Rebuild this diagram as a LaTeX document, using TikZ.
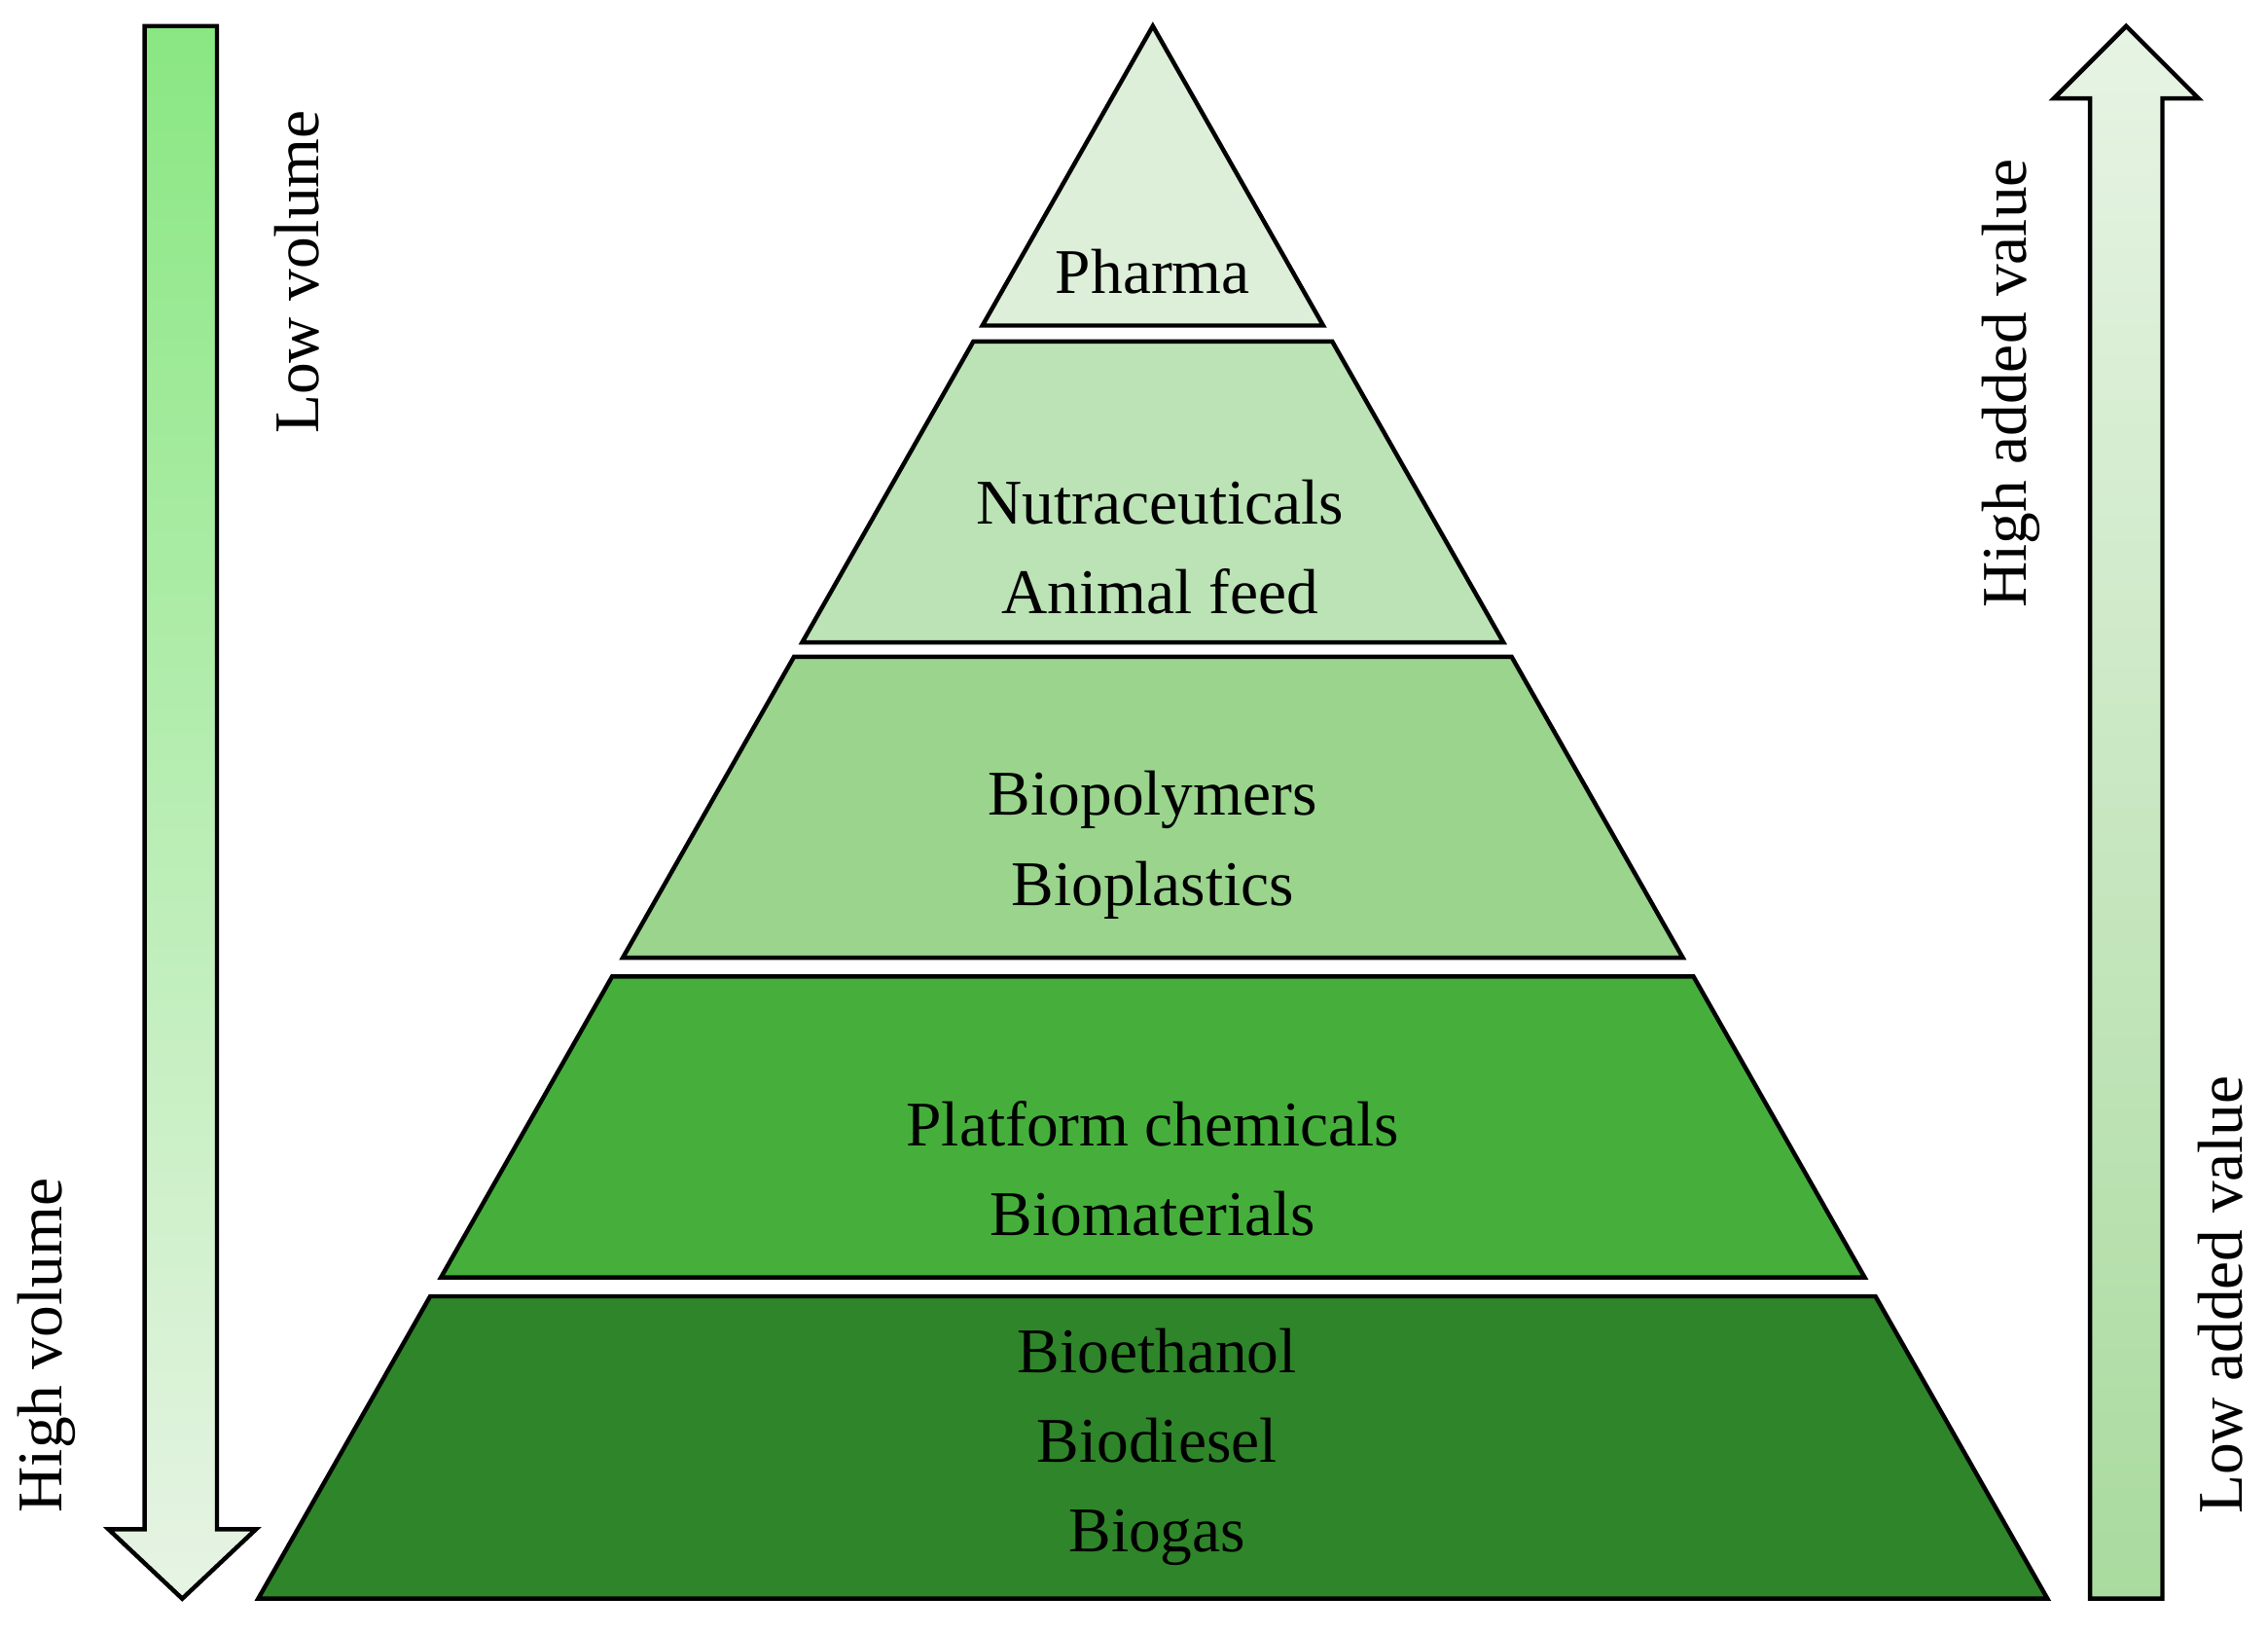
\documentclass[tikz,border=0pt]{standalone}
\usepackage{fontspec}
\setmainfont{Liberation Serif}
\begin{document}
\begin{tikzpicture}[x=1pt,y=-1pt,
  lay/.style={draw=black,line width=3pt,line join=miter},
  lbl/.style={font=\fontsize{44}{62}\selectfont,align=center,text=black},
  side/.style={font=\fontsize{44}{50}\selectfont,rotate=90}]
\useasboundingbox (0,0) rectangle (1568,1129);
\definecolor{c1}{HTML}{DDEFD9}\definecolor{c2}{HTML}{BBE3B5}
\definecolor{c3}{HTML}{9AD48D}\definecolor{c4}{HTML}{46AF3C}
\definecolor{c5}{HTML}{2F852A}
\def\L#1{\fpeval{797-0.569*(#1-18)}}
\def\R#1{\fpeval{797+0.569*(#1-18)}}
\def\layer#1#2#3{\fill[#3] (\L{#1},#1) -- (\R{#1},#1) -- (\R{#2},#2) -- (\L{#2},#2) -- cycle;
  \draw[lay] (\L{#1},#1) -- (\R{#1},#1) -- (\R{#2},#2) -- (\L{#2},#2) -- cycle;}
\fill[c1] (797,18) -- (\R{225},225) -- (\L{225},225) -- cycle;
\draw[lay] (797,18) -- (\R{225},225) -- (\L{225},225) -- cycle;
\layer{236}{444}{c2}
\layer{454}{662}{c3}
\layer{675}{883}{c4}
\layer{896}{1105}{c5}
\node[lbl] (t1) at (797,188) {Pharma};
\node[lbl] (t2) at (802,378) {Nutraceuticals\\Animal feed};
\node[lbl] (t3) at (797,584) {Biopolymers\\Bioplastics};
\node[lbl] (t4) at (797,808) {Platform chemicals\\Biomaterials};
\node[lbl] (t5) at (800,1000) {Bioethanol\\Biodiesel\\Biogas};
% left arrow
\draw[line width=3pt,top color=green!30!c3!80!white,bottom color=c1!70!white]
 (100,18) -- (150,18) -- (150,1057) -- (177,1057) -- (126,1105) -- (75,1057) -- (100,1057) -- cycle;
% right arrow
\draw[line width=3pt,top color=c1!70!white,bottom color=c3!85!white]
 (1445,1105) -- (1495,1105) -- (1495,68) -- (1520,68) -- (1470,18) -- (1420,68) -- (1445,68) -- cycle;
\node[side] (lv) at (205,188) {Low volume};
\node[side] (hv) at (32,930) {High volume};
\node[side] (hav) at (1390,265) {High added value};
\node[side] (lav) at (1535,895) {Low added value};
\end{tikzpicture}
\end{document}
